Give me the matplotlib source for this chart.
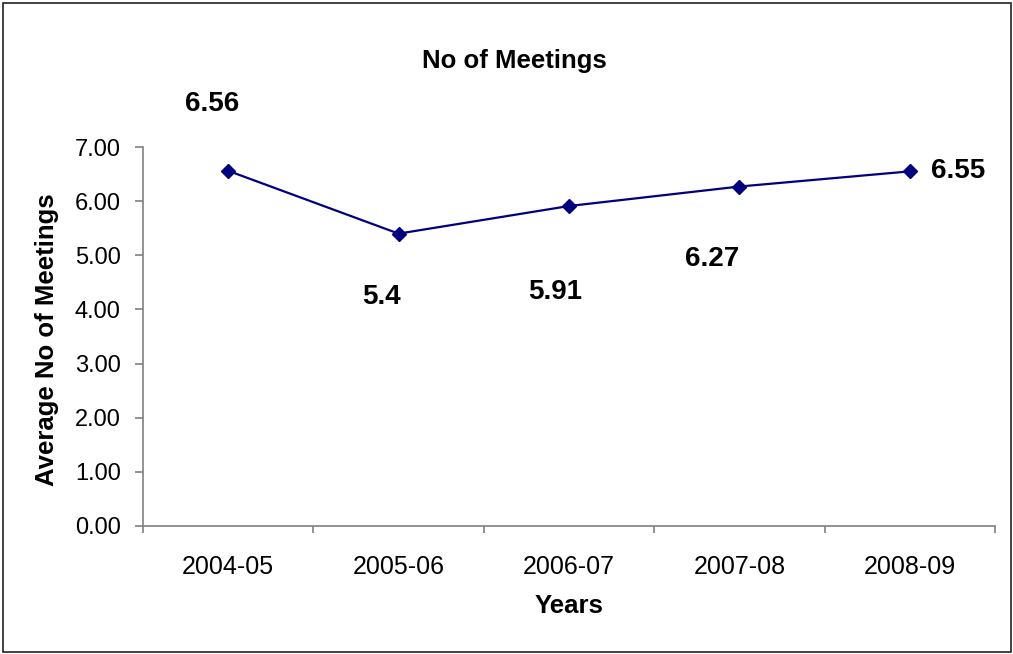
import matplotlib
matplotlib.use("Agg")
import matplotlib.pyplot as plt
from matplotlib.patches import Rectangle

plt.rcParams['font.family'] = ['Liberation Sans', 'DejaVu Sans']

years = ["2004-05", "2005-06", "2006-07", "2007-08", "2008-09"]
meetings = [6.56, 5.4, 5.91, 6.27, 6.55]
value_labels = ["6.56", "5.4", "5.91", "6.27", "6.55"]
# label offsets in pixels (dx, dy) from each point
label_offsets = [(-16, 67), (-17, -63), (-14, -86), (-27, -72), (48, 0)]

W, H = 1013, 654
fig = plt.figure(figsize=(W/100, H/100), dpi=100)
fig.patches.append(Rectangle((2.5/W, 2.5/H), (W-5)/W, (H-5)/H, transform=fig.transFigure,
                             fill=False, edgecolor='#222222', linewidth=1.2))

ax = fig.add_axes([143/W, 1-526/H, (995-143)/W, (526-147)/H])
x = list(range(len(years)))
ax.plot(x, meetings, color='#000080', marker='D', markersize=7.5, linewidth=1.6,
        clip_on=False, zorder=3)

for xi, yi, txt, (dx, dy) in zip(x, meetings, value_labels, label_offsets):
    ax.annotate(txt, (xi, yi), xytext=(dx*0.72, dy*0.72), textcoords='offset points',
                ha='center', va='center', fontsize=20, fontweight='bold')

ax.set_xlim(-0.5, len(years)-0.5)
ax.set_ylim(0, 7)
ax.set_yticks(range(8))
ax.set_yticklabels([f"{v:.2f}" for v in range(8)], fontsize=17)
ax.set_xticks(x)
ax.set_xticklabels(years, fontsize=18)
ax.set_xticks([i - 0.5 for i in range(len(years)+1)], minor=True)
ax.tick_params(axis='x', which='major', length=0, pad=21)
ax.tick_params(axis='x', which='minor', length=5, direction='out', color='#808080', width=1.2)
ax.tick_params(axis='y', length=6, direction='out', pad=10, color='#808080', width=1.2)

for s in ['top', 'right']:
    ax.spines[s].set_visible(False)
for s in ['left', 'bottom']:
    ax.spines[s].set_color('#808080')
    ax.spines[s].set_linewidth(1.2)

fig.text(514/W, 1-61/H, "No of Meetings", ha='center', va='center',
         fontsize=18.5, fontweight='bold')
fig.text(47/W, 1-340/H, "Average No of Meetings", ha='center', va='center',
         rotation=90, fontsize=18.5, fontweight='bold')
fig.text(569/W, 1-606/H, "Years", ha='center', va='center',
         fontsize=18.5, fontweight='bold')

fig.savefig("out.png", dpi=100)
